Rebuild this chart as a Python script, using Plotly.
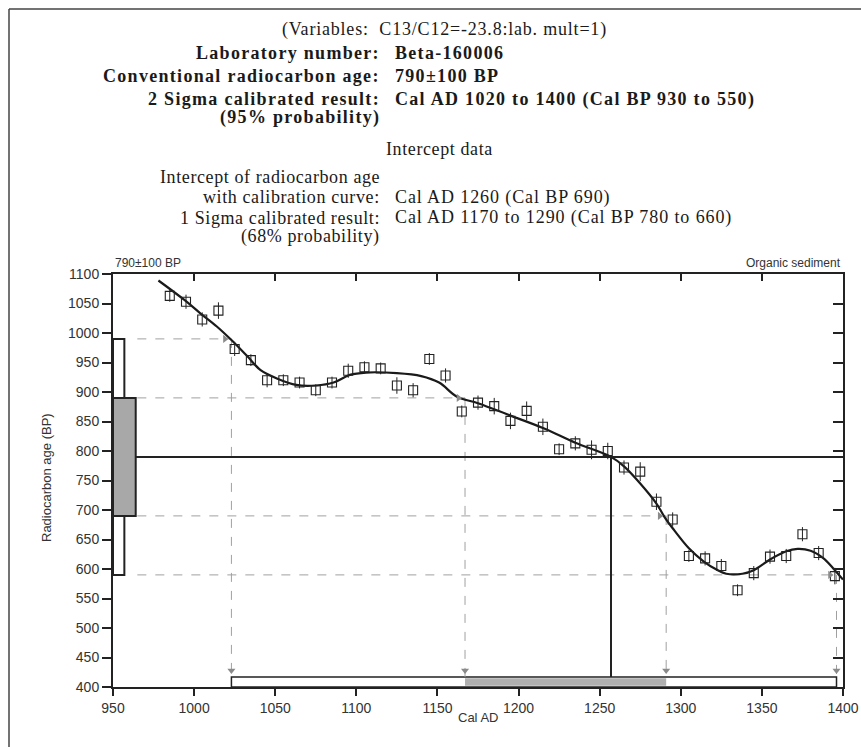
import plotly.graph_objects as go

OFF = 0
W, H = 861, 747
ML, MR, MT = 113, 18, 274
MB = H - 687

# ---------------- data ----------------
cal_ad = [985, 995, 1005, 1015, 1025, 1035, 1045, 1055, 1065, 1075, 1085, 1095, 1105,
          1115, 1125, 1135, 1145, 1155, 1165, 1175, 1185, 1195, 1205, 1215, 1225, 1235,
          1245, 1255, 1265, 1275, 1285, 1295, 1305, 1315, 1325, 1335, 1345, 1355, 1365,
          1375, 1385, 1395]
c14_age = [1063, 1053, 1023, 1038, 973, 954, 920, 920, 916, 903, 916, 936, 942,
           940, 911, 903, 956, 928, 867, 882, 876, 851, 868, 841, 803, 813,
           802, 800, 772, 765, 714, 684, 622, 618, 605, 564, 593, 621, 622,
           659, 627, 588]
c14_err = [10, 12, 12, 14, 12, 10, 12, 10, 10, 10, 10, 12, 10,
           10, 14, 12, 10, 12, 10, 12, 14, 14, 16, 14, 10, 12,
           16, 14, 12, 16, 14, 12, 10, 12, 12, 10, 12, 12, 12,
           12, 12, 14]

curve_ad = [978, 994, 1004, 1014, 1023, 1033, 1041, 1051, 1063, 1075, 1086, 1096, 1106,
            1125, 1140, 1151, 1162, 1175, 1195, 1215, 1235, 1257, 1265, 1275, 1285, 1290,
            1295, 1305, 1314, 1322, 1328, 1338, 1345, 1355, 1365, 1372, 1380, 1388, 1394,
            1400]
curve_age = [1089, 1056, 1033, 1011, 988, 960, 937, 923, 912, 911, 916, 929, 933,
             932, 927, 916, 892, 881, 860, 839, 814, 790, 774, 745, 711, 688,
             669, 635, 613, 599, 592, 592, 598, 616, 630, 634, 631, 618, 601,
             582]

conv_age = 790
age_1sig = [690, 890]
age_2sig = [590, 990]
cal_1sig = [1167, 1291]
cal_2sig = [1023, 1396]
intercept_ad = 1257

x_ticks = [950, 1000, 1050, 1100, 1150, 1200, 1250, 1300, 1350, 1400]
y_ticks = [400, 450, 500, 550, 600, 650, 700, 750, 800, 850, 900, 950, 1000, 1050, 1100]

header_labels = ["Laboratory number:", "Conventional radiocarbon age:",
                 "2 Sigma calibrated result:", "(95% probability)",
                 "Intercept of radiocarbon age", "with calibration curve:",
                 "1 Sigma calibrated result:", "(68% probability)"]
header_values = ["Beta-160006", "790±100 BP",
                 "Cal AD 1020 to 1400 (Cal BP 930 to 550)",
                 "Cal AD 1260 (Cal BP 690)",
                 "Cal AD 1170 to 1290 (Cal BP 780 to 660)"]
variables_text = "(Variables:  C13/C12=-23.8:lab. mult=1)"
intercept_title = "Intercept data"
sample_label = "790±100 BP"
material_label = "Organic sediment"
x_title = "Cal AD"
y_title = "Radiocarbon age (BP)"

# ---------------- helpers (page pixel -> paper) ----------------
PW = W - ML - MR
PH = H - MT - MB


def pxx(x):
    return (x - OFF - ML) / PW


def pxy(y):
    return 1 - (y - OFF - MT) / PH


X0, X1 = x_ticks[0], x_ticks[-1]
Y0, Y1 = y_ticks[0], y_ticks[-1]

fig = go.Figure()

shapes = []
# probability boxes on the age axis
box2_w = 7
box1_w = 14
shapes.append(dict(type="rect", xref="x", yref="y", x0=X0, x1=X0 + box2_w,
                   y0=age_2sig[0], y1=age_2sig[1], fillcolor="white",
                   line=dict(color="#222", width=2), layer="above"))
shapes.append(dict(type="rect", xref="x", yref="y", x0=X0, x1=X0 + box1_w,
                   y0=age_1sig[0], y1=age_1sig[1], fillcolor="#a8a8a8",
                   line=dict(color="#222", width=2), layer="above"))

# bottom calibrated range bar
bar_h = 17
shapes.append(dict(type="rect", xref="x", yref="y", x0=cal_2sig[0], x1=cal_2sig[1],
                   y0=Y0, y1=Y0 + bar_h, fillcolor="white",
                   line=dict(color="#222", width=1.5), layer="below"))
shapes.append(dict(type="rect", xref="x", yref="y", x0=cal_1sig[0], x1=cal_1sig[1],
                   y0=Y0 + 2, y1=Y0 + bar_h - 2, fillcolor="#b0b0b0",
                   line=dict(width=0), layer="below"))

# dashed guide lines
ages = [age_2sig[1], age_1sig[1], age_1sig[0], age_2sig[0]]
cals = [cal_2sig[0], cal_1sig[0], cal_1sig[1], cal_2sig[1]]
for a, c in zip(ages, cals):
    shapes.append(dict(type="line", xref="x", yref="y", x0=X0 + box1_w + 1, x1=c,
                       y0=a, y1=a, line=dict(color="#a0a0a0", width=1, dash="dash"),
                       layer="below"))
    shapes.append(dict(type="line", xref="x", yref="y", x0=c, x1=c,
                       y0=a, y1=Y0 + bar_h, line=dict(color="#a0a0a0", width=1, dash="dash"),
                       layer="below"))

# conventional age line and intercept
shapes.append(dict(type="line", xref="x", yref="y", x0=X0 + box1_w, x1=X1,
                   y0=conv_age, y1=conv_age, line=dict(color="#222", width=2)))
shapes.append(dict(type="line", xref="x", yref="y", x0=intercept_ad, x1=intercept_ad,
                   y0=Y0 + bar_h, y1=conv_age, line=dict(color="#222", width=2)))

# page frame
shapes.append(dict(type="line", xref="paper", yref="paper", x0=pxx(9), x1=pxx(9),
                   y0=pxy(9), y1=pxy(760), line=dict(color="#444", width=1.5)))
shapes.append(dict(type="line", xref="paper", yref="paper", x0=pxx(9), x1=pxx(870),
                   y0=pxy(9), y1=pxy(9), line=dict(color="#444", width=1.5)))

# calibration curve
fig.add_trace(go.Scatter(x=curve_ad, y=curve_age, mode="lines",
                         line=dict(color="#1a1a1a", width=2.2, shape="spline", smoothing=1.0),
                         hoverinfo="skip", showlegend=False))
# data points
fig.add_trace(go.Scatter(x=cal_ad, y=c14_age, mode="markers",
                         marker=dict(symbol="square-open", size=9, color="#222",
                                     line=dict(width=1.1, color="#222")),
                         error_y=dict(type="data", array=c14_err, visible=True,
                                      color="#222", thickness=1, width=0),
                         showlegend=False))
# arrowheads on horizontal guides (pointing right at curve)
fig.add_trace(go.Scatter(x=[c - 4 for c in cals], y=ages, mode="markers",
                         marker=dict(symbol="triangle-right", size=7, color="#8a8a8a"),
                         showlegend=False, hoverinfo="skip"))
# arrowheads on vertical guides (pointing down at bar)
fig.add_trace(go.Scatter(x=cals, y=[Y0 + bar_h + 11] * len(cals), mode="markers",
                         marker=dict(symbol="triangle-down", size=7, color="#8a8a8a"),
                         showlegend=False, hoverinfo="skip"))

tickfont = dict(family="Liberation Sans, Arial, sans-serif", size=14, color="#333")

fig.update_layout(
    width=W, height=H,
    margin=dict(l=ML, r=MR, t=MT, b=MB, autoexpand=False),
    paper_bgcolor="white", plot_bgcolor="white",
    shapes=shapes,
    xaxis=dict(range=[X0, X1], tickvals=x_ticks, ticktext=[str(v) for v in x_ticks],
               ticks="outside", ticklen=7, tickwidth=2, tickcolor="#222",
               showline=True, linecolor="#222", linewidth=2,
               showgrid=False, zeroline=False, tickfont=tickfont),
    yaxis=dict(range=[Y0, Y1], tickvals=y_ticks, ticktext=[str(v) for v in y_ticks],
               ticks="outside", ticklen=9, tickwidth=2, tickcolor="#222",
               showline=True, linecolor="#222", linewidth=2,
               showgrid=False, zeroline=False, tickfont=tickfont),
    xaxis2=dict(range=[X0, X1], overlaying="x", side="top", tickvals=x_ticks,
                ticks="inside", ticklen=7, tickwidth=2, tickcolor="#222",
                showticklabels=False, showline=True, linecolor="#222", linewidth=2,
                showgrid=False, zeroline=False),
    yaxis2=dict(range=[Y0, Y1], overlaying="y", side="right", tickvals=y_ticks,
                ticks="inside", ticklen=10, tickwidth=2, tickcolor="#222",
                showticklabels=False, showline=True, linecolor="#222", linewidth=2,
                showgrid=False, zeroline=False),
)
# invisible trace to activate secondary axes
fig.add_trace(go.Scatter(x=[X0], y=[Y0], xaxis="x2", yaxis="y2", mode="markers",
                         marker=dict(opacity=0), showlegend=False, hoverinfo="skip"))

ann = []
serif = "Liberation Serif, Times New Roman, serif"


def sp(t, ls=1.1):
    return '<span style="letter-spacing:%spx">%s</span>' % (ls, t)


def add_text(text, x, y, xanchor, bold=False, size=18, family=serif, color="#1a1a1a",
             ls=1.1):
    ann.append(dict(text=sp(text, ls), x=pxx(x), y=pxy(y), xref="paper", yref="paper",
                    xanchor=xanchor, yanchor="middle", showarrow=False,
                    font=dict(family=family, size=size, color=color,
                              weight="bold" if bold else "normal")))


LX = 382
VX = 393
add_text(variables_text, 444, 29, "center", size=18, ls=0.8)
label_y = [53, 76, 99, 117, 177, 197, 218, 237]
label_bold = [True, True, True, True, False, False, False, False]
for t, y, b in zip(header_labels, label_y, label_bold):
    add_text(t, LX, y, "right", bold=b, ls=1.3 if b else 0.6)
value_y = [53, 76, 99, 197, 218]
value_bold = [True, True, True, False, False]
for t, y, b in zip(header_values, value_y, value_bold):
    add_text(t, VX, y, "left", bold=b, ls=1.3 if b else 0.9)
add_text(intercept_title, 439, 149, "center", ls=0.6)

sans = "Liberation Sans, Arial, sans-serif"
ann.append(dict(text=sample_label, x=0, y=pxy(263), xref="paper", yref="paper",
                xanchor="left", yanchor="middle", showarrow=False,
                font=dict(family=sans, size=12, color="#333")))
ann.append(dict(text=material_label, x=1, y=pxy(263), xref="paper", yref="paper",
                xanchor="right", yanchor="middle", showarrow=False,
                font=dict(family=sans, size=12, color="#333")))
ann.append(dict(text=x_title, x=pxx(478), y=pxy(717), xref="paper", yref="paper",
                xanchor="center", yanchor="middle", showarrow=False,
                font=dict(family=sans, size=13, color="#333")))
ann.append(dict(text=y_title, x=pxx(46), y=pxy(478), xref="paper", yref="paper",
                xanchor="center", yanchor="middle", showarrow=False, textangle=-90,
                font=dict(family=sans, size=13, color="#333")))

fig.update_layout(annotations=ann)

fig.write_html("out.html",
               config={"displayModeBar": False},
               post_script="document.body.style.margin='0px';"
                           "document.body.style.overflow='hidden';")
